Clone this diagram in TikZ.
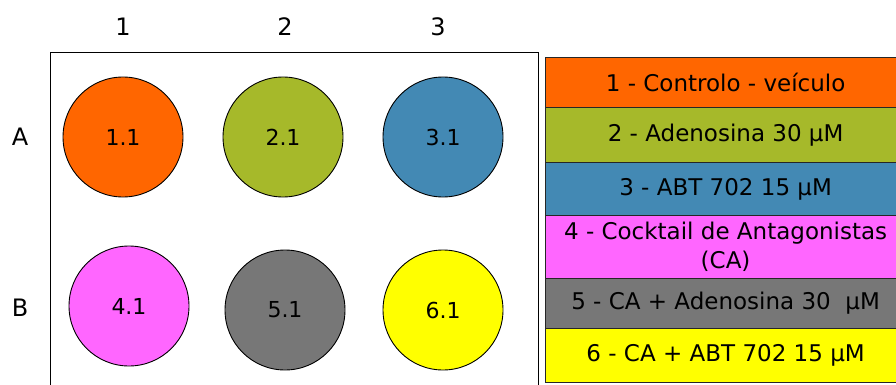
\documentclass[tikz,border=0pt]{standalone}
\usepackage{fontspec}
\setmainfont{DejaVu Sans}
\definecolor{cOrange}{HTML}{FF6600}
\definecolor{cOlive}{HTML}{A6B92A}
\definecolor{cBlue}{HTML}{4389B4}
\definecolor{cMagenta}{HTML}{FF66FF}
\definecolor{cGray}{HTML}{777777}
\definecolor{cYellow}{HTML}{FFFF00}
\begin{document}
\begin{tikzpicture}[x=1pt,y=-1pt,
  well/.style={circle,draw=black,line width=0.9pt,minimum size=120pt,inner sep=0pt,font=\fontsize{22}{26}\selectfont},
  head/.style={font=\fontsize{24}{28}\selectfont},
  legbox/.style={draw=black!85,line width=1.2pt,anchor=north west,minimum width=360pt,inner sep=0pt,align=center,font=\fontsize{23}{29}\selectfont}]
\useasboundingbox (0,0) rectangle (896,385);
\begin{scope}
\clip (0,0) rectangle (896,385);
\draw[line width=0.9pt] (50,52) rectangle (538,392);
\node[well,fill=cOrange] (w11) at (123,137) {1.1};
\node[well,fill=cOlive] (w21) at (283,137) {2.1};
\node[well,fill=cBlue] (w31) at (443,137) {3.1};
\node[well,fill=cMagenta] (w41) at (129,306) {4.1};
\node[well,fill=cGray] (w51) at (285,310) {5.1};
\node[well,fill=cYellow] (w61) at (443,310) {6.1};
\node[head] (c1) at (123,27) {1};
\node[head] (c2) at (285,27) {2};
\node[head] (c3) at (438,27) {3};
\node[head] (rA) at (20,137) {A};
\node[head] (rB) at (20,308) {B};
\node[legbox,fill=cOrange,minimum height=50pt] (l1) at (545,57) {1 - Controlo - veículo};
\node[legbox,fill=cOlive,minimum height=55pt] (l2) at (545,107) {2 - Adenosina 30 µM};
\node[legbox,fill=cBlue,minimum height=53pt] (l3) at (545,162) {3 - ABT 702 15 µM};
\node[legbox,fill=cMagenta,minimum height=63pt] (l4) at (545,215) {4 - Cocktail de Antagonistas\\(CA)};
\node[legbox,fill=cGray,minimum height=50pt] (l5) at (545,278) {5 - CA + Adenosina 30 \ µM};
\node[legbox,fill=cYellow,minimum height=54pt] (l6) at (545,328) {6 - CA + ABT 702 15 µM};
\end{scope}
\end{tikzpicture}
\end{document}
